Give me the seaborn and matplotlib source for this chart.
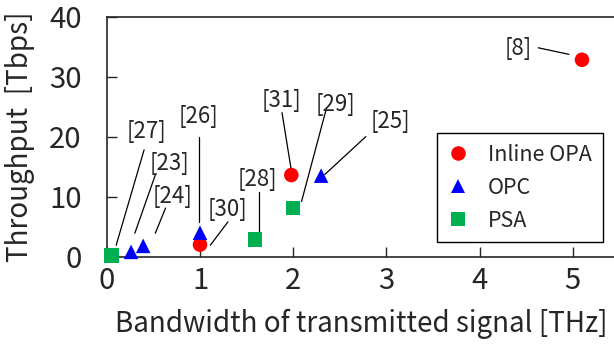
"""Throughput vs. bandwidth of transmitted signal for amplification schemes."""

import matplotlib

matplotlib.use("Agg")
import matplotlib.pyplot as plt
import pandas as pd
import seaborn as sns

# data
opa_bw = [1.0, 1.98, 5.1]
opa_tp = [2.0, 13.6, 32.8]
opc_bw = [0.26, 0.39, 1.0, 2.3]
opc_tp = [0.8, 1.8, 4.0, 13.5]
psa_bw = [0.05, 1.59, 2.0]
psa_tp = [0.2, 2.9, 8.1]

refs = ["[27]", "[23]", "[24]", "[26]", "[30]", "[28]", "[31]", "[29]", "[25]", "[8]"]
ref_text_xy = [(0.43, 20.8), (0.67, 15.6), (0.71, 10.0), (0.98, 23.3), (1.30, 7.8),
               (1.62, 12.8), (1.87, 26.1), (2.45, 25.3), (3.04, 22.5), (4.42, 34.7)]
ref_line = [((0.40, 17.8), (0.10, 1.9)), ((0.52, 13.6), (0.30, 3.9)),
            ((0.63, 8.1), (0.52, 3.9)), ((0.99, 20.0), (0.99, 5.8)),
            ((1.30, 5.8), (1.11, 1.9)), ((1.63, 10.7), (1.63, 3.6)),
            ((1.88, 24.0), (1.98, 14.4)), ((2.35, 24.3), (2.09, 9.2)),
            ((2.78, 20.0), (2.34, 13.7)), ((4.63, 34.8), (4.96, 33.7))]

groups = ["Inline OPA", "OPC", "PSA"]
colors = {"Inline OPA": "#ff0000", "OPC": "#0000ff", "PSA": "#00b050"}
markers = {"Inline OPA": "o", "OPC": "^", "PSA": "s"}

df = pd.DataFrame(
    {
        "bw": opa_bw + opc_bw + psa_bw,
        "tp": opa_tp + opc_tp + psa_tp,
        "scheme": ["Inline OPA"] * len(opa_bw) + ["OPC"] * len(opc_bw) + ["PSA"] * len(psa_bw),
    }
)

sns.set_style("ticks")
plt.rcParams["font.family"] = ["Noto Sans CJK JP", "DejaVu Sans"]

fig = plt.figure(figsize=(6.14, 3.45), dpi=100)
ax = fig.add_axes([0.174, 0.256, 0.83, 0.696])

sns.scatterplot(
    data=df, x="bw", y="tp", hue="scheme", style="scheme",
    hue_order=groups, style_order=groups, palette=colors, markers=markers,
    s=110, linewidth=0, ax=ax, clip_on=False, zorder=3,
)

for label, (tx, ty), (p0, p1) in zip(refs, ref_text_xy, ref_line):
    ax.text(tx, ty, label, ha="center", va="center", fontsize=16)
    ax.plot([p0[0], p1[0]], [p0[1], p1[1]], color="black", lw=0.9)

ax.set_xlim(0, 5.47)
ax.set_ylim(0, 40)
ax.set_xticks([0, 1, 2, 3, 4, 5])
ax.set_yticks([0, 10, 20, 30, 40])
ax.tick_params(direction="in", length=7, width=1, labelsize=21)
ax.tick_params(axis="x", pad=7)
ax.tick_params(axis="y", pad=18)
for side in ["left", "bottom", "top"]:
    ax.spines[side].set_linewidth(1.2)
ax.spines["right"].set_visible(False)
ax.set_xlabel("Bandwidth of transmitted signal [THz]", fontsize=20, labelpad=9)
ax.set_ylabel("Throughput  [Tbps]", fontsize=20, labelpad=10)

ax.legend(
    loc="upper left", bbox_to_anchor=(0.647, 0.514), fontsize=15.5, frameon=True,
    fancybox=False, edgecolor="black", framealpha=1, borderaxespad=0,
    handlelength=1.0, handletextpad=0.9, borderpad=0.5, labelspacing=0.5,
).get_frame().set_linewidth(1.0)

fig.savefig("out.png", dpi=100)
